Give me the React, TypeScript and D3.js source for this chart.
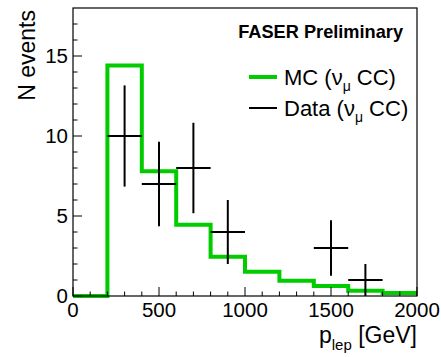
import React, { useEffect, useRef } from 'react';
import * as d3 from 'd3';

// bin edges in GeV
const binEdges = [0, 200, 400, 600, 800, 1000, 1200, 1400, 1600, 1800, 2000];
// MC expectation per bin
const mcValues = [0, 14.4, 7.8, 4.45, 2.45, 1.52, 0.95, 0.63, 0.33, 0.19];
// data counts per bin (null = empty bin, not drawn)
const dataCounts: (number | null)[] = [null, 10, 7, 8, 4, null, null, 3, 1, null];
const xMajorTicks = [0, 500, 1000, 1500, 2000];
const yMajorTicks = [0, 5, 10, 15];

const W = 441;
const H = 357;
const FONT = "'Liberation Sans', Arial, Helvetica, sans-serif";
const GREEN = '#00cc00';

const App: React.FC = () => {
  const svgRef = useRef<SVGSVGElement | null>(null);

  useEffect(() => {
    if (!svgRef.current) return;
    const svg = d3.select(svgRef.current);
    svg.selectAll('*').remove();

    const margin = { top: 8, right: 24, bottom: 61, left: 73 };
    const x = d3.scaleLinear().domain([0, 2000]).range([margin.left, W - margin.right]);
    const y = d3.scaleLinear().domain([0, 18]).range([H - margin.bottom, margin.top]);
    const x0 = x(0), x1 = x(2000), y0 = y(0), y1 = y(18);

    const g = svg.append('g');

    // --- histogram (MC) ---
    const pts: [number, number][] = [[binEdges[0], 0]];
    mcValues.forEach((v, i) => {
      pts.push([binEdges[i], v]);
      pts.push([binEdges[i + 1], v]);
    });
    const line = d3.line<[number, number]>().x(d => x(d[0])).y(d => y(d[1]));
    g.append('path')
      .datum(pts)
      .attr('d', line)
      .attr('fill', 'none')
      .attr('stroke', GREEN)
      .attr('stroke-width', 4)
      .attr('stroke-linejoin', 'miter');

    // --- data points with sqrt(N) errors ---
    dataCounts.forEach((n, i) => {
      if (n === null) return;
      const lo = binEdges[i], hi = binEdges[i + 1];
      const c = (lo + hi) / 2;
      const e = Math.sqrt(n);
      g.append('line').attr('x1', x(lo)).attr('x2', x(hi)).attr('y1', y(n)).attr('y2', y(n))
        .attr('stroke', '#000').attr('stroke-width', 2);
      g.append('line').attr('x1', x(c)).attr('x2', x(c)).attr('y1', y(Math.max(0, n - e))).attr('y2', y(n + e))
        .attr('stroke', '#000').attr('stroke-width', 2);
    });

    // --- frame ---
    g.append('rect').attr('x', x0).attr('y', y1).attr('width', x1 - x0).attr('height', y0 - y1)
      .attr('fill', 'none').attr('stroke', '#000').attr('stroke-width', 1.2);

    // x ticks
    d3.range(0, 2001, 100).forEach(v => {
      const major = v % 500 === 0;
      g.append('line').attr('x1', x(v)).attr('x2', x(v)).attr('y1', y0).attr('y2', y0 - (major ? 9 : 4.5))
        .attr('stroke', '#000').attr('stroke-width', 1);
    });
    // y ticks
    d3.range(0, 18, 1).forEach(v => {
      const major = v % 5 === 0;
      g.append('line').attr('y1', y(v)).attr('y2', y(v)).attr('x1', x0).attr('x2', x0 + (major ? 9 : 4.5))
        .attr('stroke', '#000').attr('stroke-width', 1);
    });

    // tick labels
    g.selectAll('.xl').data(xMajorTicks).enter().append('text')
      .attr('x', d => x(d)).attr('y', y0 + 21).attr('text-anchor', 'middle')
      .attr('font-family', FONT).attr('font-size', 20.5).text(d => d);
    g.selectAll('.yl').data(yMajorTicks).enter().append('text')
      .attr('x', x0 - 5).attr('y', d => y(d) + 7).attr('text-anchor', 'end')
      .attr('font-family', FONT).attr('font-size', 20.5).text(d => d);

    // axis titles
    const xt = g.append('text').attr('x', x1).attr('y', 343).attr('text-anchor', 'end')
      .attr('font-family', FONT).attr('font-size', 23);
    xt.append('tspan').text('p');
    xt.append('tspan').attr('font-size', 15).attr('dy', 7).text('lep');
    xt.append('tspan').attr('dy', -7).text(' [GeV]');

    g.append('text').attr('transform', `translate(35, ${y1 + 2}) rotate(-90)`)
      .attr('text-anchor', 'end').attr('font-family', FONT).attr('font-size', 23).text('N events');

    // label
    g.append('text').attr('x', 403).attr('y', 38).attr('text-anchor', 'end')
      .attr('font-family', FONT).attr('font-size', 18.2).attr('font-weight', 'bold').text('FASER Preliminary');

    // legend
    const legend = [
      { name: 'MC', color: GREEN, width: 4, y: 77 },
      { name: 'Data', color: '#000', width: 2, y: 108 },
    ];
    legend.forEach(l => {
      g.append('line').attr('x1', 249).attr('x2', 277).attr('y1', l.y).attr('y2', l.y)
        .attr('stroke', l.color).attr('stroke-width', l.width);
      const t = g.append('text').attr('x', 284).attr('y', l.y + 8)
        .attr('font-family', FONT).attr('font-size', 22);
      t.append('tspan').text(`${l.name} (ν`);
      t.append('tspan').attr('font-size', 14).attr('dy', 6).text('μ');
      t.append('tspan').attr('dy', -6).text(' CC)');
    });
  }, []);

  return (
    <svg ref={svgRef} width={W} height={H}
      style={{ position: 'fixed', top: 0, left: 0, background: '#fff' }} />
  );
};

export default App;
